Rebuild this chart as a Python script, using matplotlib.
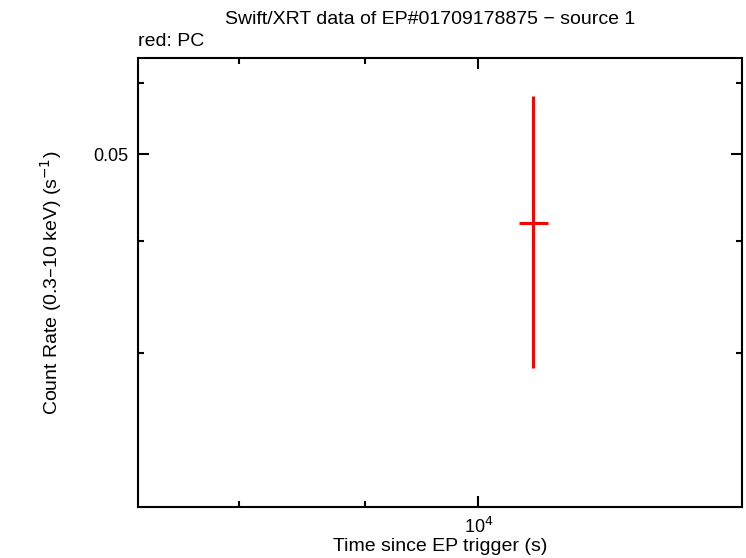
import matplotlib
matplotlib.use("Agg")
import matplotlib.pyplot as plt
from matplotlib.ticker import FixedLocator, NullFormatter, FixedFormatter

plt.rcParams["font.family"] = ["Liberation Sans", "DejaVu Sans"]

# PC mode data point
pc_time = [10527.0]
pc_time_lo = [10390.0]
pc_time_hi = [10675.0]
pc_rate = [0.04189]
pc_rate_lo = [0.02889]
pc_rate_hi = [0.05801]

fig = plt.figure(figsize=(7.46, 5.58), dpi=100)
ax = fig.add_axes([138 / 746, 1 - 507 / 558, (742 - 138) / 746, (507 - 58) / 558])

xerr = [[t - lo for t, lo in zip(pc_time, pc_time_lo)],
        [hi - t for t, hi in zip(pc_time, pc_time_hi)]]
yerr = [[r - lo for r, lo in zip(pc_rate, pc_rate_lo)],
        [hi - r for r, hi in zip(pc_rate, pc_rate_hi)]]
ax.errorbar(pc_time, pc_rate, xerr=xerr, yerr=yerr, fmt="none",
            ecolor="#ff0000", elinewidth=2.2, capsize=0)

ax.set_xscale("log")
ax.set_yscale("log")
ax.set_xlim(7280, 12790)
ax.set_ylim(0.0202, 0.0640)

ax.xaxis.set_major_locator(FixedLocator([1e4]))
ax.xaxis.set_major_formatter(FixedFormatter([r"10$^4$"]))
ax.xaxis.set_minor_locator(FixedLocator([8000, 9000]))
ax.xaxis.set_minor_formatter(NullFormatter())
ax.yaxis.set_major_locator(FixedLocator([0.05]))
ax.yaxis.set_major_formatter(FixedFormatter(["0.05"]))
ax.yaxis.set_minor_locator(FixedLocator([0.03, 0.04, 0.06]))
ax.yaxis.set_minor_formatter(NullFormatter())

ax.tick_params(which="both", direction="in", top=True, right=True, width=1.5, labelsize=13)
ax.tick_params(which="major", length=8, pad=7)
ax.tick_params(which="minor", length=4)
for s in ax.spines.values():
    s.set_linewidth(1.5)

ax.set_xlabel("Time since EP trigger (s)", fontsize=14, labelpad=1)
ax.set_ylabel("Count Rate (0.3\u201310 keV) (s$^{-1}$)", fontsize=14, labelpad=21)
fig.text(430 / 746, 1 - 20 / 558, "Swift/XRT data of EP#01709178875 \u2212 source 1",
         ha="center", va="center", fontsize=14)
fig.text(138 / 746, 1 - 42 / 558, "red: PC", ha="left", va="center", fontsize=14)

fig.savefig("out.png", dpi=100)
